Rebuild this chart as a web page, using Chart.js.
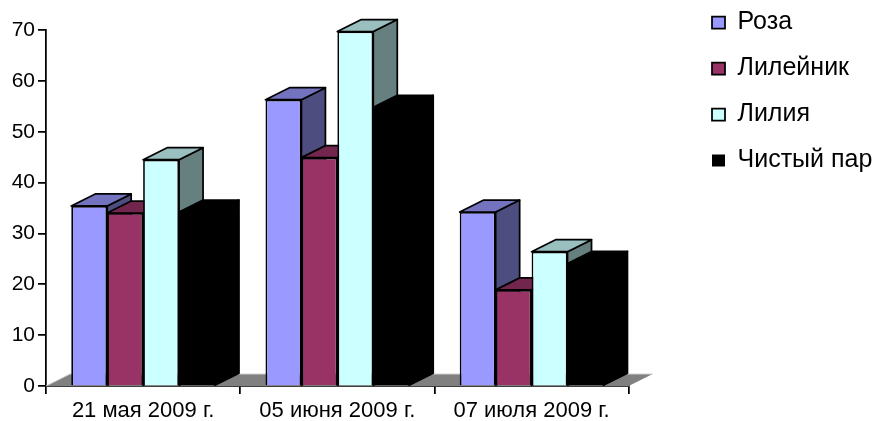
<!DOCTYPE html>
<html>
<head>
<meta charset="utf-8">
<title>Chart</title>
<script src="https://cdn.jsdelivr.net/npm/chart.js@4"></script>
<style>
  html, body { margin: 0; padding: 0; background: #fff; }
  #wrap { width: 877px; height: 421px; }
</style>
</head>
<body>
<div id="wrap"><canvas id="chart" role="img" aria-label="Столбчатая диаграмма"></canvas></div>
<script>
const categories = ["21 мая 2009 г.", "05 июня 2009 г.", "07 июля 2009 г."];
const seriesNames = ["Роза", "Лилейник", "Лилия", "Чистый пар"];
const roza = [35.4, 56.3, 34.2];
const lileynik = [34, 44.9, 18.9];
const liliya = [44.5, 69.7, 26.4];
const chistyPar = [34.2, 54.8, 24.1];
const yTicks = [0, 10, 20, 30, 40, 50, 60, 70];

const fronts = ["#9999ff", "#993366", "#ccffff", "#000000"];
const tops = ["#7373bf", "#73264d", "#99bfbf", "#000000"];
const sides = ["#4d4d80", "#4d1a33", "#668080", "#000000"];
const borders = [1.75, 1.75, 1.75, 0];

const depthX = 24;
const depthY = -12;
const fontName = "'Liberation Sans', Arial, sans-serif";

function poly(ctx, pts, fill, stroke, width) {
  ctx.beginPath();
  pts.forEach((p, i) => (i ? ctx.lineTo(p[0], p[1]) : ctx.moveTo(p[0], p[1])));
  ctx.closePath();
  ctx.fillStyle = fill;
  ctx.fill();
  if (stroke) {
    ctx.strokeStyle = stroke;
    ctx.lineWidth = width;
    ctx.lineJoin = "round";
    ctx.stroke();
  }
}

// floor and 3d bars, painted left to right so every bar covers its neighbour's side
const bars3d = {
  id: "bars3d",
  afterLayout(chart) {
    // the legend sits away from the plot, its box reserves the room on the right
    chart.legend.left = 691;
    chart.legend.right = chart.width;
    chart.legend.top = -11;
  },
  beforeDatasetDraw() {
    return false;
  },
  beforeDatasetsDraw(chart) {
    const { ctx, chartArea: a } = chart;
    const base = chart.scales.y.getPixelForValue(0);
    ctx.save();
    poly(ctx, [
      [a.left, base],
      [a.left + depthX, base + depthY],
      [a.right + depthX, base + depthY],
      [a.right, base],
    ], "#808080");
    ctx.beginPath();
    ctx.moveTo(a.left, base);
    ctx.lineTo(a.left + depthX, base + depthY);
    ctx.lineTo(a.right + depthX, base + depthY);
    ctx.strokeStyle = "#d0d0d0";
    ctx.lineWidth = 1;
    ctx.stroke();

    categories.forEach((c, i) => {
      chart.data.datasets.forEach((ds, d) => {
        const bar = chart.getDatasetMeta(d).data[i];
        const l = bar.x - bar.width / 2;
        const r = bar.x + bar.width / 2;
        const t = bar.y;
        const b = bar.base;
        poly(ctx, [[r, t], [r + depthX, t + depthY], [r + depthX, b + depthY], [r, b]], sides[d], "#000", 1.75);
        poly(ctx, [[l, t], [l + depthX, t + depthY], [r + depthX, t + depthY], [r, t]], tops[d], "#000", 1.75);
        bar.draw(ctx, a);
      });
    });
    ctx.restore();
  },
};

const allValues = [roza, lileynik, liliya, chistyPar];

new Chart(document.getElementById("chart"), {
  type: "bar",
  data: {
    labels: categories,
    datasets: seriesNames.map((name, i) => ({
      label: name,
      data: allValues[i],
      backgroundColor: fronts[i],
      borderColor: "#000",
      borderWidth: borders[i],
      barPercentage: 1,
      categoryPercentage: 0.74,
    })),
  },
  options: {
    responsive: true,
    maintainAspectRatio: false,
    animation: false,
    layout: { padding: { top: 30, right: 57, bottom: 0, left: 0 } },
    plugins: {
      tooltip: { enabled: false },
      legend: {
        position: "right",
        align: "start",
        labels: {
          color: "#000",
          boxWidth: 13,
          boxHeight: 12,
          padding: 21,
          font: { family: fontName, size: 25 },
        },
      },
    },
    scales: {
      x: {
        afterFit: (s) => { s.height = 35; },
        border: { color: "#000", width: 1.75 },
        grid: { drawOnChartArea: false, color: "#000", lineWidth: 1.75, tickLength: 8, tickColor: "#000" },
        ticks: {
          color: "#000",
          maxRotation: 0,
          padding: 4,
          font: { family: fontName, size: 22 },
        },
      },
      y: {
        min: 0,
        max: 70,
        afterFit: (s) => { s.width = 46; },
        afterBuildTicks: (s) => { s.ticks = yTicks.map((v) => ({ value: v })); },
        border: { color: "#000", width: 1.75 },
        grid: { drawOnChartArea: false, color: "#000", lineWidth: 1.75, tickLength: 8, tickColor: "#000" },
        ticks: {
          color: "#000",
          padding: 3,
          font: { family: fontName, size: 21 },
        },
      },
    },
  },
  plugins: [bars3d],
});
</script>
</body>
</html>
